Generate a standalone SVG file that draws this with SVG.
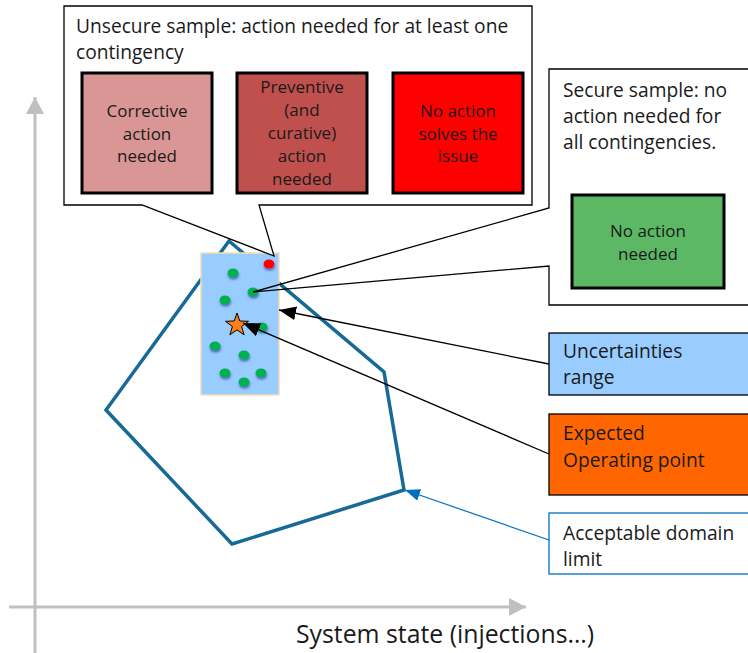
<svg xmlns="http://www.w3.org/2000/svg" width="748" height="653" viewBox="0 0 748 653">
  <style>
    text { font-family: "Open Sans", "Liberation Sans", sans-serif; fill: #1a1a1a; }
    .big { font-size: 19.2px; }
    .small { font-size: 17px; text-anchor: middle; }
    .axis { stroke: #BFBFBF; stroke-width: 3; fill: none; }
    .callout { fill: #ffffff; stroke: #000000; stroke-width: 1.3; }
    .tail { fill: none; stroke: #000000; stroke-width: 1.3; }
    .action { stroke: #000000; stroke-width: 3; }
    .label { stroke: #000000; stroke-width: 1.3; }
    .conn { fill: none; stroke: #000000; stroke-width: 1.3; }
    .dot { fill: #00B050; filter: url(#shade); }
  </style>
  <defs>
    <marker id="arrowBlack" markerUnits="userSpaceOnUse" markerWidth="18" markerHeight="14" refX="17" refY="7" orient="auto">
      <path d="M0,0 L17,7 L0,14 Z" fill="#000000"/>
    </marker>
    <marker id="arrowBlue" markerUnits="userSpaceOnUse" markerWidth="16" markerHeight="12" refX="15" refY="6" orient="auto">
      <path d="M0,0 L15,6 L0,12 Z" fill="#0070C0"/>
    </marker>
    <marker id="axisHead" markerUnits="userSpaceOnUse" markerWidth="18" markerHeight="18" refX="17" refY="9" orient="auto">
      <path d="M0,0 L17,9 L0,18 Z" fill="#BFBFBF"/>
    </marker>
    <filter id="shade" x="-50%" y="-50%" width="200%" height="220%">
      <feDropShadow dx="0.5" dy="2" stdDeviation="1.2" flood-color="#2A3F9F" flood-opacity="0.7"/>
    </filter>
  </defs>

  <!-- axes -->
  <g id="axes">
    <line class="axis" x1="35" y1="653" x2="35" y2="97" marker-end="url(#axisHead)"/>
    <line class="axis" x1="9" y1="607" x2="526" y2="607" marker-end="url(#axisHead)"/>
    <text x="296" y="643" style="font-size:24.8px">System state (injections…)</text>
  </g>

  <!-- acceptable domain and uncertainty range -->
  <g id="domain">
    <polygon points="229,241 384,372 404,490 232,544 106,410" fill="none" stroke="#176996" stroke-width="3.5"/>
  </g>
  <g id="uncertainty-range">
    <rect x="201" y="253" width="78" height="142" fill="#99CCFF" stroke="#F3DDB5" stroke-width="1.5"/>
    <ellipse cx="269" cy="264" rx="5.5" ry="4.5" fill="#FF0000" filter="url(#shade)"/>
    <ellipse class="dot" cx="233" cy="273" rx="5.5" ry="4.5"/>
    <ellipse class="dot" cx="253" cy="292" rx="5.5" ry="4.5"/>
    <ellipse class="dot" cx="225" cy="300" rx="5.5" ry="4.5"/>
    <ellipse class="dot" cx="262" cy="327" rx="5.5" ry="4.5"/>
    <ellipse class="dot" cx="215" cy="346" rx="5.5" ry="4.5"/>
    <ellipse class="dot" cx="244" cy="355" rx="5.5" ry="4.5"/>
    <ellipse class="dot" cx="225" cy="373" rx="5.5" ry="4.5"/>
    <ellipse class="dot" cx="261" cy="373" rx="5.5" ry="4.5"/>
    <ellipse class="dot" cx="244" cy="382" rx="5.5" ry="4.5"/>
  </g>
  <g id="operating-point">
    <polygon points="237,313 239.8,321 248.5,321.3 241.6,326.5 244.1,334.8 237,329.9 229.9,334.8 232.4,326.5 225.5,321.3 234.2,321" fill="#FF7F1A" stroke="#000000" stroke-width="1"/>
  </g>

  <!-- unsecure sample callout -->
  <g id="unsecure-callout">
    <path class="callout" d="M64,6 H532 V205 H259 L274,256 L142,205 H64 Z"/>
    <text class="big" x="76" y="33">Unsecure sample: action needed for at least one</text>
    <text class="big" x="76" y="59">contingency</text>
  </g>
  <g id="corrective">
    <rect class="action" x="82" y="73" width="130" height="120" fill="#D99694"/>
    <text class="small" x="147" y="117">Corrective</text>
    <text class="small" x="147" y="140">action</text>
    <text class="small" x="147" y="162">needed</text>
  </g>
  <g id="preventive">
    <rect class="action" x="237" y="73" width="130" height="120" fill="#C0504D"/>
    <text class="small" x="302" y="93">Preventive</text>
    <text class="small" x="302" y="116">(and</text>
    <text class="small" x="302" y="139">curative)</text>
    <text class="small" x="302" y="162">action</text>
    <text class="small" x="302" y="185">needed</text>
  </g>
  <g id="no-solution">
    <rect class="action" x="393" y="73" width="130" height="120" fill="#FF0000"/>
    <text class="small" x="458" y="117">No action</text>
    <text class="small" x="458" y="140">solves the</text>
    <text class="small" x="458" y="162">issue</text>
  </g>

  <!-- secure sample callout -->
  <g id="secure-callout">
    <rect x="549" y="69" width="211" height="236" fill="#ffffff"/>
    <path class="tail" d="M760,69 H549 V208 L253,292 L549,266 V305 H760"/>
    <text class="big" x="563" y="97">Secure sample: no</text>
    <text class="big" x="563" y="123">action needed for</text>
    <text class="big" x="563" y="149">all contingencies.</text>
  </g>
  <g id="no-action">
    <rect class="action" x="572" y="195" width="152" height="93" fill="#5CB865"/>
    <text class="small" x="648" y="237">No action</text>
    <text class="small" x="648" y="260">needed</text>
  </g>

  <!-- side labels -->
  <g id="uncertainties-label">
    <rect class="label" x="549" y="333" width="211" height="62" fill="#99CCFF"/>
    <text class="big" x="563" y="358">Uncertainties</text>
    <text class="big" x="563" y="384">range</text>
  </g>
  <g id="expected-label">
    <rect class="label" x="549" y="414" width="211" height="81" fill="#FF6600"/>
    <text class="big" x="563" y="440">Expected</text>
    <text class="big" x="563" y="467">Operating point</text>
  </g>
  <g id="acceptable-label">
    <rect x="549" y="513" width="211" height="61" fill="#ffffff" stroke="#0070C0" stroke-width="1.3"/>
    <text class="big" x="563" y="540">Acceptable domain</text>
    <text class="big" x="563" y="566">limit</text>
  </g>

  <!-- connectors -->
  <g id="connectors">
    <line class="conn" x1="549" y1="364" x2="279" y2="310" marker-end="url(#arrowBlack)"/>
    <line class="conn" x1="549" y1="454" x2="243" y2="323" marker-end="url(#arrowBlack)"/>
    <line x1="549" y1="540" x2="405" y2="490" stroke="#0070C0" stroke-width="1.2" marker-end="url(#arrowBlue)"/>
  </g>
</svg>
